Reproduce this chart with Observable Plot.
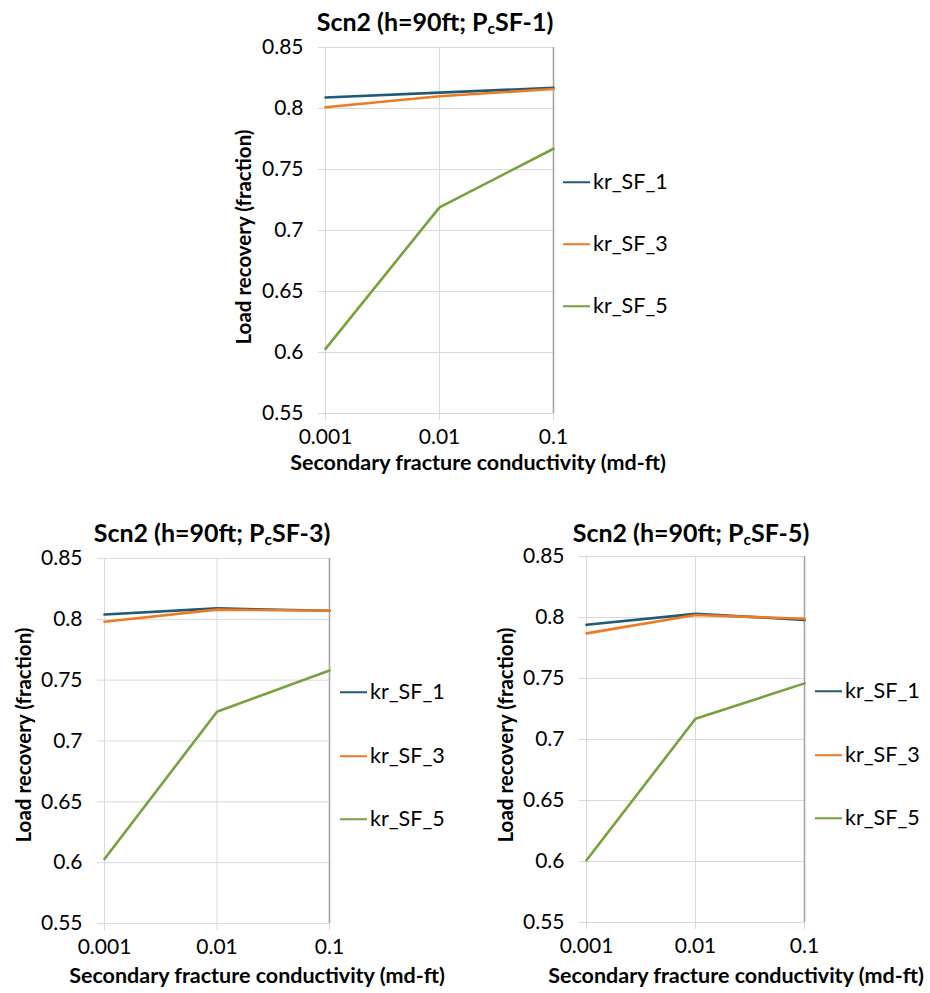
<!DOCTYPE html>
<html><head><meta charset="utf-8">
<script src="https://cdn.jsdelivr.net/npm/d3@7"></script>
<script src="https://cdn.jsdelivr.net/npm/@observablehq/plot@0.6"></script>
<style>
body{margin:0;background:#fff;font-family:Lato,sans-serif;color:#000}
#wrap{position:relative;width:930px;height:993px;overflow:hidden;background:#fff}
.abs{position:absolute}
.title{font-weight:bold;font-size:25px;white-space:nowrap;transform:translate(-50%,-50%);line-height:1}
.xl{font-weight:bold;font-size:21.5px;white-space:nowrap;transform:translate(-50%,-50%);line-height:1}
.yl{font-weight:bold;font-size:20.5px;white-space:nowrap;transform:translate(-50%,-50%) rotate(-90deg);line-height:1}
.leg{font-size:21.5px;white-space:nowrap;transform:translateY(-50%);display:flex;align-items:center;line-height:1}
.sw{display:inline-block;width:27px;height:2.5px;margin-right:3px}
sub{font-size:62%;vertical-align:-0.25em;line-height:0}
</style></head>
<body><div id="wrap"></div>
<script>
// ---- data ----
const xValues = [0.001, 0.01, 0.1];
const xTickLabels = ["0.001", "0.01", "0.1"];
const yTicks = [0.55, 0.6, 0.65, 0.7, 0.75, 0.8, 0.85];
const yTickLabels = ["0.55", "0.6", "0.65", "0.7", "0.75", "0.8", "0.85"];
const seriesNames = ["kr_SF_1", "kr_SF_3", "kr_SF_5"];
const seriesColors = ["#1F5B76", "#F07A22", "#77A13C"];
const titleSuffixes = ["SF-1", "SF-3", "SF-5"];
const xLabel = "Secondary fracture conductivity (md-ft)";
const yLabel = "Load recovery (fraction)";

// Scn2 (h=90ft; PcSF-1)
const pc1_sf1 = [0.809, 0.813, 0.817];
const pc1_sf3 = [0.801, 0.810, 0.816];
const pc1_sf5 = [0.603, 0.719, 0.767];
// Scn2 (h=90ft; PcSF-3)
const pc3_sf1 = [0.804, 0.809, 0.807];
const pc3_sf3 = [0.798, 0.808, 0.807];
const pc3_sf5 = [0.603, 0.724, 0.758];
// Scn2 (h=90ft; PcSF-5)
const pc5_sf1 = [0.794, 0.803, 0.798];
const pc5_sf3 = [0.787, 0.802, 0.799];
const pc5_sf5 = [0.601, 0.717, 0.746];

const chartSeries = [
  [pc1_sf1, pc1_sf3, pc1_sf5],
  [pc3_sf1, pc3_sf3, pc3_sf5],
  [pc5_sf1, pc5_sf3, pc5_sf5]
];

// ---- layout (pixel placement only) ----
const layouts = [
  {left: 220, top: 0, width: 360, height: 480, mL: 105, mR: 27, mT: 47, mB: 67,
   title: [435, 21], xl: [478, 463], yl: [243, 237], leg: {x: 563, ys: [182, 244, 306]}},
  {left: 0, top: 490, width: 360, height: 503, mL: 104, mR: 31, mT: 68, mB: 70,
   title: [212, 532], xl: [257, 976], yl: [23, 735], leg: {x: 340, ys: [692, 756, 819]}},
  {left: 470, top: 490, width: 360, height: 503, mL: 116, mR: 26, mT: 66, mB: 71,
   title: [691, 532], xl: [736, 976], yl: [505, 735], leg: {x: 815, ys: [691, 755, 818]}}
];

const wrap = document.getElementById("wrap");

function addDiv(cls, x, y, html) {
  const d = document.createElement("div");
  d.className = "abs " + cls;
  d.style.left = x + "px";
  d.style.top = y + "px";
  d.innerHTML = html;
  wrap.appendChild(d);
  return d;
}

chartSeries.forEach((series, ci) => {
  const L = layouts[ci];
  const rows = [];
  series.forEach((vals, si) => {
    vals.forEach((v, i) => rows.push({x: xValues[i], y: v, series: seriesNames[si]}));
  });
  const plot = Plot.plot({
    width: L.width, height: L.height,
    marginLeft: L.mL, marginRight: L.mR, marginTop: L.mT, marginBottom: L.mB,
    style: {fontFamily: "Lato, sans-serif", color: "#000", background: "transparent", overflow: "visible"},
    x: {type: "log", domain: [xValues[0], xValues[xValues.length - 1]]},
    y: {domain: [yTicks[0], yTicks[yTicks.length - 1]]},
    color: {domain: seriesNames, range: seriesColors},
    marks: [
      Plot.gridY(yTicks, {stroke: "#d9d9d9", strokeOpacity: 1, strokeWidth: 1}),
      Plot.gridX(xValues, {stroke: "#d9d9d9", strokeOpacity: 1, strokeWidth: 1}),
      Plot.axisY({ticks: yTicks, tickFormat: (d) => yTickLabels[yTicks.indexOf(d)],
        tickSize: 7, tickPadding: 15, stroke: "#d9d9d9", fill: "#000", fontSize: 21, label: null}),
      Plot.axisX({ticks: xValues, tickFormat: (d) => xTickLabels[xValues.indexOf(d)],
        tickSize: 7, tickPadding: 9, stroke: "#d9d9d9", fill: "#000", fontSize: 21, label: null}),
      Plot.ruleX([xValues[xValues.length - 1]], {stroke: "#a6a6a6", strokeWidth: 1.6}),
      Plot.line(rows, {x: "x", y: "y", z: "series", stroke: "series", strokeWidth: 2.6, curve: "linear"})
    ]
  });
  plot.style.position = "absolute";
  plot.style.left = L.left + "px";
  plot.style.top = L.top + "px";
  wrap.appendChild(plot);

  addDiv("title", L.title[0], L.title[1], "Scn2 (h=90ft; P<sub>c</sub>" + titleSuffixes[ci] + ")");
  addDiv("xl", L.xl[0], L.xl[1], xLabel);
  addDiv("yl", L.yl[0], L.yl[1], yLabel);
  seriesNames.forEach((name, si) => {
    addDiv("leg", L.leg.x, L.leg.ys[si],
      '<span class="sw" style="background:' + seriesColors[si] + '"></span>' + name);
  });
});
</script>
</body></html>
